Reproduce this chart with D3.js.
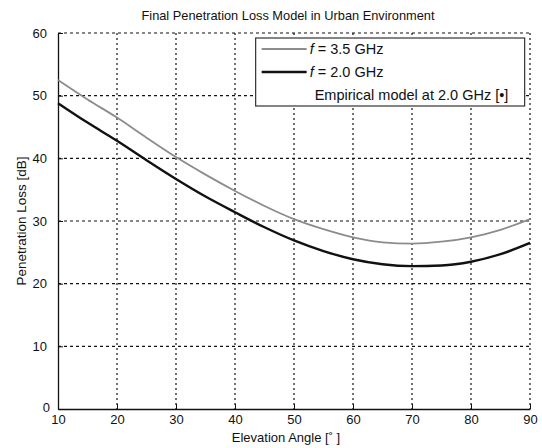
<!DOCTYPE html>
<html>
<head>
<meta charset="utf-8">
<script src="https://cdn.jsdelivr.net/npm/d3@7"></script>
<style>
  body { margin: 0; background: #fff; }
  text { font-family: "Liberation Sans", Arial, sans-serif; fill: #111; }
</style>
</head>
<body>
<div id="chart"></div>
<script>
// elevation angles in degrees
const angles = [10, 15, 20, 25, 30, 35, 40, 45, 50, 55, 60, 65, 70, 75, 80, 85, 90];
// penetration loss in dB
const loss35 = [52.5, 49.4, 46.5, 43.3, 40.2, 37.4, 34.8, 32.4, 30.3, 28.7, 27.4, 26.6, 26.4, 26.7, 27.4, 28.6, 30.3];
const loss20 = [48.8, 45.7, 42.8, 39.7, 36.7, 33.9, 31.4, 29.0, 26.9, 25.2, 23.9, 23.1, 22.8, 22.9, 23.5, 24.7, 26.5];
const xTicks = [10, 20, 30, 40, 50, 60, 70, 80, 90];
const yTicks = [0, 10, 20, 30, 40, 50, 60];

const svg = d3.select('#chart').append('svg')
  .attr('width', 542)
  .attr('height', 448);

const margin = { top: 33, right: 12, bottom: 39, left: 58 };
const width = 542 - margin.left - margin.right;
const height = 448 - margin.top - margin.bottom;

const x = d3.scaleLinear().domain([10, 90]).range([0, width]);
const y = d3.scaleLinear().domain([0, 60]).range([height, 0]);

const g = svg.append('g')
  .attr('transform', `translate(${margin.left},${margin.top})`);

// dotted grid
g.append('g').selectAll('line').data(xTicks.slice(1)).join('line')
  .attr('x1', d => x(d)).attr('x2', d => x(d))
  .attr('y1', 0).attr('y2', height)
  .attr('stroke', '#111').attr('stroke-width', 1.2)
  .attr('stroke-dasharray', '2,3');
g.append('g').selectAll('line').data(yTicks.slice(1)).join('line')
  .attr('x1', 0).attr('x2', width)
  .attr('y1', d => y(d)).attr('y2', d => y(d))
  .attr('stroke', '#111').attr('stroke-width', 1.2)
  .attr('stroke-dasharray', '3,3');

// axes
const xAxis = g.append('g')
  .attr('transform', `translate(0,${height})`)
  .call(d3.axisBottom(x).tickValues(xTicks).tickSizeInner(-5).tickSizeOuter(0).tickPadding(6));
const yAxis = g.append('g')
  .call(d3.axisLeft(y).tickValues(yTicks).tickSizeInner(-5).tickSizeOuter(0).tickPadding(11));
[xAxis, yAxis].forEach(a => {
  a.select('.domain').attr('stroke', '#111').attr('stroke-width', 1.3);
  a.selectAll('.tick line').attr('stroke', '#111');
  a.selectAll('.tick text').attr('font-size', 13).attr('font-family', '"Liberation Sans", Arial, sans-serif').attr('fill', '#111');
});
// the "0" label sits closer to the axis, beside the "10"
yAxis.selectAll('.tick').filter(d => d === 0).select('text').attr('x', -8).attr('dy', '0.2em');

// curves
const line = d3.line()
  .x(d => x(d[0]))
  .y(d => y(d[1]))
  .curve(d3.curveMonotoneX);

g.append('path')
  .datum(d3.zip(angles, loss35))
  .attr('fill', 'none')
  .attr('stroke', '#8c8c8c')
  .attr('stroke-width', 1.8)
  .attr('d', line);

g.append('path')
  .datum(d3.zip(angles, loss20))
  .attr('fill', 'none')
  .attr('stroke', '#111')
  .attr('stroke-width', 2.4)
  .attr('d', line);

// legend
const legend = g.append('g').attr('transform', `translate(${x(43.5)},5)`);
legend.append('rect')
  .attr('width', 269).attr('height', 68)
  .attr('fill', '#fff').attr('stroke', '#333').attr('stroke-width', 1.2);

const entries = [
  { label: ' = 3.5 GHz', f: true, color: '#8c8c8c', w: 1.8 },
  { label: ' = 2.0 GHz', f: true, color: '#111', w: 2.4 },
  { label: 'Empirical model at 2.0 GHz [•]', f: false, color: null }
];
entries.forEach((e, i) => {
  const cy = 11 + i * 23;
  if (e.color) {
    legend.append('line')
      .attr('x1', 6).attr('x2', 51)
      .attr('y1', cy).attr('y2', cy)
      .attr('stroke', e.color).attr('stroke-width', e.w);
  }
  const t = legend.append('text')
    .attr('x', e.f ? 54 : 59).attr('y', cy)
    .attr('dy', '0.35em')
    .attr('font-size', 14.5);
  if (e.f) {
    t.append('tspan').attr('font-style', 'italic').text('f');
    t.append('tspan').text(e.label);
  } else {
    t.text(e.label);
  }
});

// title and axis labels
svg.append('text')
  .attr('x', margin.left + width / 2 - 6).attr('y', 20)
  .attr('text-anchor', 'middle').attr('font-size', 12.8)
  .text('Final Penetration Loss Model in Urban Environment');

svg.append('text')
  .attr('x', margin.left + width / 2 - 8).attr('y', 442)
  .attr('text-anchor', 'middle').attr('font-size', 13)
  .text('Elevation Angle [˚ ]');

svg.append('text')
  .attr('transform', `translate(26,${margin.top + height / 2}) rotate(-90)`)
  .attr('text-anchor', 'middle').attr('font-size', 13.5)
  .text('Penetration Loss [dB]');
</script>
</body>
</html>
